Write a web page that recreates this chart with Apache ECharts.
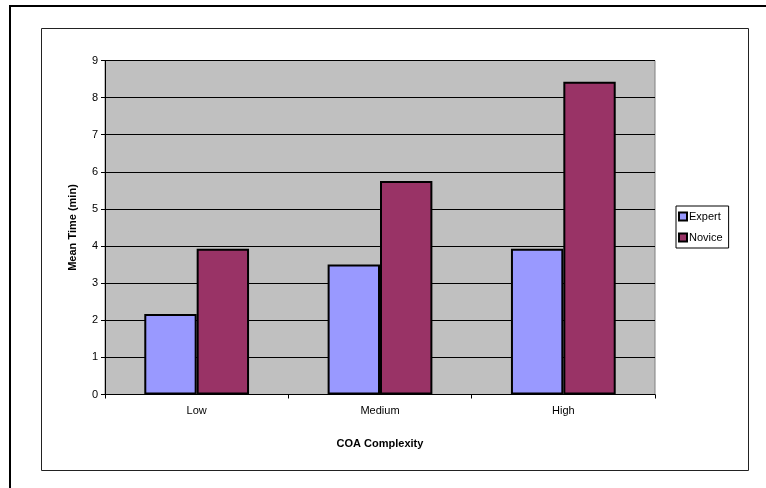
<!DOCTYPE html>
<html>
<head>
<meta charset="utf-8">
<script src="https://cdn.jsdelivr.net/npm/echarts@6/dist/echarts.min.js"></script>
<style>
html,body{margin:0;padding:0;background:#fff;}
#c{width:766px;height:488px;}
</style>
</head>
<body>
<div id="c"></div>
<script>
var categories = ['Low', 'Medium', 'High'];
var expertValues = [2.17, 3.5, 3.93];
var noviceValues = [3.93, 5.75, 8.43];
var seriesNames = ['Expert', 'Novice'];
var yTicks = [0, 1, 2, 3, 4, 5, 6, 7, 8, 9];

var chart = echarts.init(document.getElementById('c'), null, {renderer: 'canvas'});
var font = 'Liberation Sans, Arial, sans-serif';
chart.setOption({
  animation: false,
  backgroundColor: '#ffffff',
  textStyle: {fontFamily: font},
  graphic: [
    {type: 'polyline', shape: {points: [[10, 488], [10, 6], [766, 6]]}, style: {stroke: '#000', lineWidth: 2, fill: null}},
    {type: 'rect', shape: {x: 41.5, y: 28.5, width: 707, height: 442}, style: {stroke: '#222', lineWidth: 1, fill: null}}
  ],
  grid: {
    left: 105, top: 60.5, right: 111, bottom: 93.5,
    show: true, backgroundColor: '#C0C0C0', borderColor: '#808080', borderWidth: 1
  },
  legend: {
    orient: 'vertical', left: 676, top: 206,
    data: seriesNames,
    borderColor: '#000', borderWidth: 1, padding: [5, 6, 5, 2],
    itemWidth: 8, itemHeight: 8, itemGap: 10,
    icon: 'rect',
    textStyle: {fontSize: 11, color: '#000', fontFamily: font, padding: [0, 0, 0, -3]}
  },
  xAxis: {
    type: 'category', data: categories,
    axisLine: {show: true, lineStyle: {color: '#000', width: 1}},
    axisTick: {show: true, alignWithLabel: false, length: 4, lineStyle: {color: '#000'}},
    axisLabel: {fontSize: 11, color: '#000', margin: 11, fontFamily: font},
    name: 'COA Complexity', nameLocation: 'middle', nameGap: 44,
    nameTextStyle: {fontSize: 11, fontWeight: 'bold', color: '#000', fontFamily: font},
    splitLine: {show: false}
  },
  yAxis: {
    type: 'value', min: yTicks[0], max: yTicks[yTicks.length - 1], interval: 1,
    axisLine: {show: true, lineStyle: {color: '#000', width: 1}},
    axisTick: {show: true, length: 4, lineStyle: {color: '#000'}},
    axisLabel: {fontSize: 11, color: '#000', margin: 7, fontFamily: font},
    splitLine: {show: true, lineStyle: {color: '#000', width: 1}},
    name: 'Mean Time (min)', nameLocation: 'middle', nameGap: 27,
    nameTextStyle: {fontSize: 11, fontWeight: 'bold', color: '#000', fontFamily: font}
  },
  series: [
    {name: seriesNames[0], type: 'bar', data: expertValues, barGap: '0%', barCategoryGap: '42.86%',
     itemStyle: {color: '#9999FF', borderColor: '#000', borderWidth: 2}},
    {name: seriesNames[1], type: 'bar', data: noviceValues, barGap: '0%', barCategoryGap: '42.86%',
     itemStyle: {color: '#993366', borderColor: '#000', borderWidth: 2}}
  ]
});
</script>
</body>
</html>
